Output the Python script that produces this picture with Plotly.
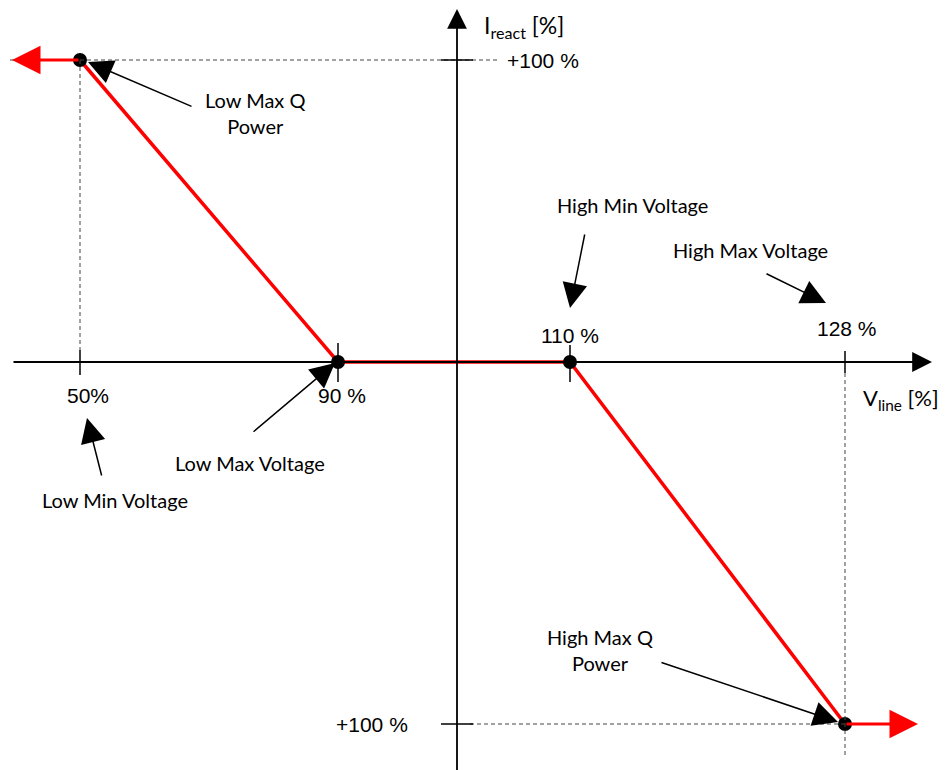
import plotly.graph_objects as go

# Q(U) characteristic: breakpoints of the reactive current curve
v_line_pct = [50, 90, 110, 128]
i_react_pct = [100, 0, 0, -100]
v_tick_text = ["50%", "90 %", "110 %", "128 %"]
i_tick_text = ["+100 %", "+100 %"]
i_tick_vals = [100, -100]

# the sketch is not to scale -> where each value sits along the drawn axes
v_drawn = {50: -3.77, 90: -1.19, 110: 1.13, 128: 3.88}
i_drawn = {100: 3.02, 0: 0.0, -100: -3.62}

xs = [v_drawn[v] for v in v_line_pct]
ys = [i_drawn[i] for i in i_react_pct]

CAL = "Lato, Open Sans, sans-serif"
ARL = "Liberation Sans, Arial, sans-serif"
RED = "#ff0000"

fig = go.Figure()

shapes = []
dash = dict(color="#444", width=1, dash="4px,3px")
# guide lines
shapes.append(dict(type="line", x0=-4.47, x1=0.40, y0=ys[0], y1=ys[0], line=dash))
shapes.append(dict(type="line", x0=xs[0], x1=xs[0], y0=ys[0], y1=0.12, line=dash))
shapes.append(dict(type="line", x0=0.13, x1=xs[3], y0=ys[3], y1=ys[3], line=dash))
shapes.append(dict(type="line", x0=xs[3], x1=xs[3], y0=-0.11, y1=-3.95, line=dash))

# ticks on V axis
tick_len = [(0.12, -0.13), (0.19, -0.20), (0.17, -0.20), (0.11, -0.11)]
for x, (t0, t1) in zip(xs, tick_len):
    shapes.append(dict(type="line", x0=x, x1=x, y0=t0, y1=t1, line=dict(color="black", width=1.5)))
# ticks on I axis
for iv in i_tick_vals:
    y = i_drawn[iv]
    shapes.append(dict(type="line", x0=-0.16, x1=0.16, y0=y, y1=y, line=dict(color="black", width=1.5)))

ann = []
# axes as arrows
ann.append(dict(x=4.75, y=0, ax=-4.45, ay=0, axref="x", ayref="y", text="", showarrow=True,
                arrowhead=2, arrowsize=2.2, arrowwidth=1.8, arrowcolor="black", standoff=0))
ann.append(dict(x=0, y=3.53, ax=0, ay=-4.15, axref="x", ayref="y", text="", showarrow=True,
                arrowhead=2, arrowsize=2.2, arrowwidth=1.8, arrowcolor="black", standoff=0))

fig.add_trace(go.Scatter(x=xs, y=ys, mode="lines", line=dict(color=RED, width=3.5),
                         hoverinfo="skip", showlegend=False))
# red continuation arrows
ann.append(dict(x=-4.45, y=ys[0], ax=xs[0], ay=ys[0], axref="x", ayref="y", text="", showarrow=True,
                arrowhead=2, arrowsize=1.9, arrowwidth=3, arrowcolor=RED, standoff=0))
ann.append(dict(x=4.61, y=ys[3], ax=xs[3], ay=ys[3], axref="x", ayref="y", text="", showarrow=True,
                arrowhead=2, arrowsize=1.9, arrowwidth=3, arrowcolor=RED, standoff=0))

fig.add_trace(go.Scatter(x=xs, y=ys, mode="markers", marker=dict(color="black", size=14),
                         hoverinfo="skip", showlegend=False))

# axis titles / tick labels
ann.append(dict(x=0.25, y=3.36, text="I<sub>react</sub> [%]", xanchor="left", showarrow=False,
                font=dict(family=CAL, size=23, color="black")))
ann.append(dict(x=4.04, y=-0.37, text="V<sub>line</sub> [%]", xanchor="left", showarrow=False,
                font=dict(family=CAL, size=22, color="black")))
ann.append(dict(x=0.48, y=i_drawn[100], text=i_tick_text[0], xanchor="left", showarrow=False,
                font=dict(family=ARL, size=21, color="black")))
ann.append(dict(x=-0.47, y=i_drawn[-100], text=i_tick_text[1], xanchor="right", showarrow=False,
                font=dict(family=ARL, size=21, color="black")))
lbl_off = [(0.08, -0.33), (0.04, -0.33), (0.0, 0.27), (0.02, 0.34)]
for x, t, (dx, dy) in zip(xs, v_tick_text, lbl_off):
    ann.append(dict(x=x + dx, y=dy, text=t, showarrow=False, font=dict(family=ARL, size=21, color="black")))

# callouts: (text, text x, text y, tail x, tail y, tip x, tip y)
callouts = [
    ("Low Max Q<br>Power", -2.02, 2.49, -2.64, 2.55, -3.69, 3.00),
    ("Low Min Voltage", -3.42, -1.38, -3.55, -1.15, -3.70, -0.56),
    ("Low Max Voltage", -2.07, -1.01, -2.05, -0.71, -1.22, -0.01),
    ("High Min Voltage", 1.75, 1.57, 1.28, 1.29, 1.13, 0.54),
    ("High Max Voltage", 2.93, 1.12, 3.08, 0.89, 3.69, 0.59),
    ("High Max Q<br>Power", 1.43, -2.88, 2.03, -3.00, 3.81, -3.60),
]
for t, tx, ty, x0, y0, x1, y1 in callouts:
    ann.append(dict(x=tx, y=ty, text=t, showarrow=False,
                    font=dict(family=CAL, size=20, color="black")))
    ann.append(dict(x=x1, y=y1, ax=x0, ay=y0, axref="x", ayref="y", text="", showarrow=True,
                    arrowhead=2, arrowsize=3.3, arrowwidth=1.5, arrowcolor="black", standoff=0))

# the page adds an 8px body margin, so shift the visible window to compensate
fig.update_layout(
    width=946, height=770,
    margin=dict(l=0, r=0, t=0, b=0),
    paper_bgcolor="white", plot_bgcolor="white",
    xaxis=dict(range=[-4.49, 4.97], visible=False, fixedrange=True),
    yaxis=dict(range=[-4.16, 3.54], visible=False, fixedrange=True),
    shapes=shapes, annotations=ann,
)

fig.write_html("out.html")
